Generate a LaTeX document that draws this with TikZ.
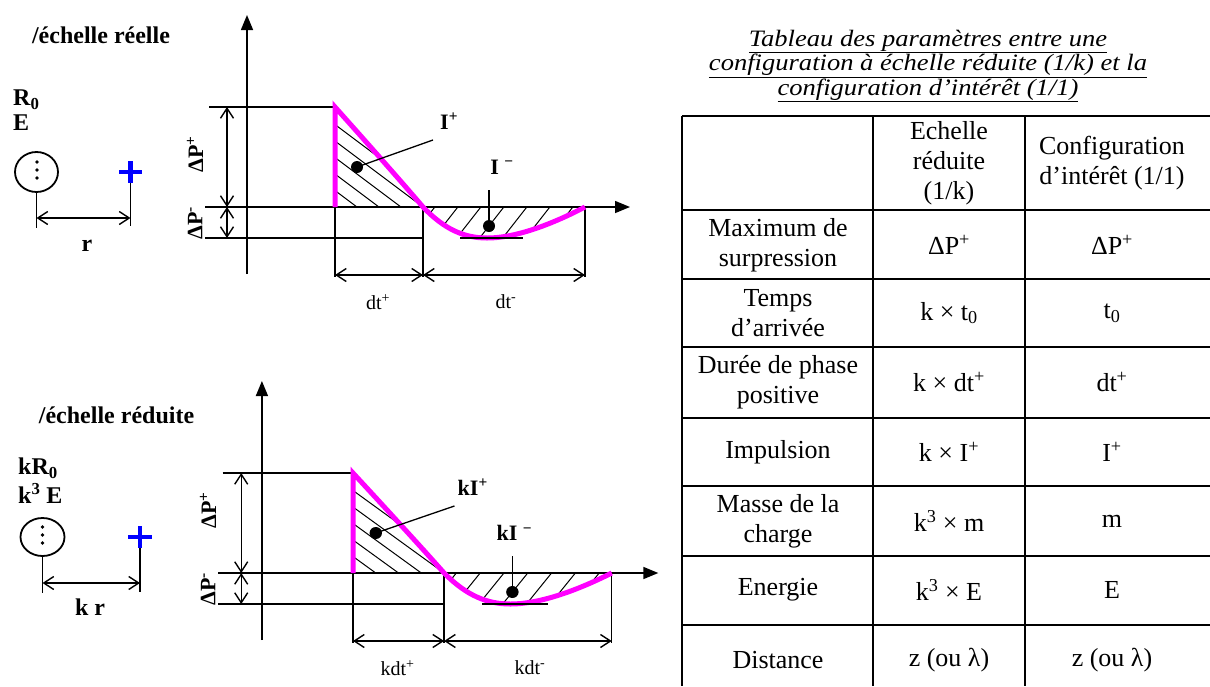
\documentclass[tikz,border=0pt]{standalone}
\usepackage{fontspec}
\setmainfont{Liberation Serif}
\usetikzlibrary{arrows.meta}
\definecolor{magentaC}{RGB}{255,0,255}
\definecolor{blueC}{RGB}{0,0,255}
% #1 I+ text, #2 I- text, #3 dt+ text, #4 dt- text, #5 DeltaP+ label y, #6 I+ west x, #7 I- center x, #8 prefix
\newcommand\pulsegraph[8]{%
  \begin{scope}
    \clip (0,0) -- (0,-100) .. controls (25,-72) and (65,-27) .. (88,0) -- cycle;
    \foreach \xb in {0,22,...,286} \draw[hatchline] (\xb-220,-165) -- (\xb+20,15);
  \end{scope}
  \begin{scope}
    \clip (88,0) .. controls (110,23) and (130,31) .. (152,31) .. controls (185,31) and (225,13) .. (250,0) -- cycle;
    \foreach \xt in {100,123,...,290} \draw[hatchline] (\xt+10,-13) -- (\xt-40,51);
  \end{scope}
  \draw[axisarrow] (-88,67) -- (-88,-192);
  \draw[axisarrow] (-130,0) -- (295,0);
  \draw[thinline] (-126,-100) -- (0,-100);
  \draw[thinline] (-130,31) -- (88,31);
  \draw[thinline] (0,0) -- (0,70);
  \draw[thinline] (88,0) -- (88,70);
  \draw[thinline] (250,0) -- (250,70);
  \draw[dimarrow] (-108,-100) -- (-108,0);
  \draw[dimarrow] (-108,0) -- (-108,31);
  \draw[dimarrow] (0,68) -- (88,68);
  \draw[dimarrow] (88,68) -- (250,68);
  \draw[pulseline] (0,0) -- (0,-100) .. controls (25,-72) and (65,-27) .. (88,0)
     .. controls (110,23) and (130,31) .. (152,31) .. controls (185,31) and (225,13) .. (250,0);
  \draw[thinline] (125,31) -- (188,31);
  % I+ leader
  \fill (22,-40) circle (6);
  \draw[thinline] (22,-40) -- (98,-67);
  \node[boldlbl, anchor=west] (#8ip) at (#6,-86) {#1};
  % I- leader
  \fill (154,19) circle (6);
  \draw[thinline] (154,19) -- (154,-17);
  \node[boldlbl] (#8im) at (#7,-40) {#2};
  \node[boldlbl, rotate=90] (#8dpp) at (-140,#5) {ΔP\textsuperscript{+}};
  \node[boldlbl, rotate=90] (#8dpm) at (-140,16) {ΔP\textsuperscript{-}};
  \node[dtlbl] (#8dtp) at (43,95) {#3};
  \node[dtlbl] (#8dtm) at (171,95) {#4};
}
\begin{document}
\begin{tikzpicture}[x=1pt,y=-1pt,
  thinline/.style={line width=1.3pt},
  hatchline/.style={line width=1pt},
  axisarrow/.style={line width=1.5pt,-{Triangle[length=15pt,width=12pt]}},
  dimarrow/.style={line width=1.4pt,{Straight Barb[length=10pt,width=13pt]}-{Straight Barb[length=10pt,width=13pt]}},
  pulseline/.style={line width=5pt,draw=magentaC},
  crossline/.style={draw=blueC,line width=4.5pt},
  boldlbl/.style={inner sep=0pt,font=\bfseries\fontsize{22}{24}\selectfont},
  headlbl/.style={inner sep=0pt,font=\bfseries\fontsize{24}{26}\selectfont},
  dtlbl/.style={inner sep=0pt,font=\fontsize{20}{22}\selectfont},
  cell/.style={inner sep=0pt,align=center,font=\fontsize{26}{30}\selectfont},
  tbl/.style={line width=2.5pt},
]
\useasboundingbox (0,0) rectangle (1210,686);

% ---------- top left: real scale ----------
\node[headlbl] (titleA) at (101,35) {/échelle réelle};
\node[headlbl, anchor=west] (rA) at (13,100) {R\textsubscript{0}};
\node[headlbl, anchor=west] (eA) at (13,123) {E};
\draw[line width=1.8pt] (36.5,172) ellipse [x radius=21.5, y radius=20];
\foreach \yy in {162,170,178} \fill (37,\yy) circle (1.8);
\draw[thinline] (36.5,192) -- (36.5,228);
\draw[crossline] (119,172) -- (142,172);
\draw[crossline] (130.5,161) -- (130.5,183);
\draw[thinline] (130.5,183) -- (130.5,226);
\draw[dimarrow] (36.5,218) -- (130.5,218);
\node[headlbl] (distA) at (87,246) {r};

% ---------- bottom left: reduced scale ----------
\node[headlbl] (titleB) at (116.5,415) {/échelle réduite};
\node[headlbl, anchor=west] (rB) at (18,468) {kR\textsubscript{0}};
\node[headlbl, anchor=west] (eB) at (18,493) {k\textsuperscript{3} E};
\draw[line width=1.8pt] (42.5,537) ellipse [x radius=22, y radius=19];
\foreach \yy in {527,535,543} \fill (42.5,\yy) circle (1.8);
\draw[thinline] (42.5,556) -- (42.5,593);
\draw[crossline] (128,537) -- (152,537);
\draw[crossline] (140,526) -- (140,548);
\draw[thinline] (140,548) -- (140,592);
\draw[dimarrow] (42.5,583) -- (140,583);
\node[headlbl] (distB) at (90,607) {k r};

% ---------- graphs ----------
\begin{scope}[shift={(335,207)}]
  \pulsegraph{I\textsuperscript{+}}{I \textsuperscript{−}}{dt\textsuperscript{+}}{dt\textsuperscript{-}}{-53}{105}{167}{a}
\end{scope}
\begin{scope}[shift={(353,573)}, xscale=1.035]
  \pulsegraph{kI\textsuperscript{+}}{kI \textsuperscript{−}}{kdt\textsuperscript{+}}{kdt\textsuperscript{-}}{-63}{101}{156}{b}
\end{scope}

% ---------- table ----------
\node[align=center, inner sep=0pt, font=\itshape\fontsize{23.5}{23.5}\selectfont] (ttl) at (928,66)
  {\scalebox{1.13}[1]{\underline{Tableau des paramètres entre une}}\\\scalebox{1.13}[1]{\underline{configuration à échelle réduite (1/k) et la}}\\\scalebox{1.13}[1]{\underline{configuration d’intérêt (1/1)}}};
\foreach \yy in {116,210,279,347,418,486,556,625} \draw[tbl] (682,\yy) -- (1210,\yy);
\foreach \xx in {682,873,1025} \draw[tbl] (\xx,116) -- (\xx,686);

\node[cell] (h2) at (949,163) {Echelle\\réduite\\(1/k)};
\node[cell] (h3) at (1112,163) {Configuration\\d’intérêt (1/1)};

\node[cell] (r1a) at (778,245) {Maximum de\\surpression};
\node[cell] (r1b) at (949,245) {ΔP\textsuperscript{+}};
\node[cell] (r1c) at (1112,245) {ΔP\textsuperscript{+}};

\node[cell] (r2a) at (778,313) {Temps\\d’arrivée};
\node[cell] (r2b) at (949,313) {k × t\textsubscript{0}};
\node[cell] (r2c) at (1112,313) {t\textsubscript{0}};

\node[cell] (r3a) at (778,382) {Durée de phase\\positive};
\node[cell] (r3b) at (949,382) {k × dt\textsuperscript{+}};
\node[cell] (r3c) at (1112,382) {dt\textsuperscript{+}};

\node[cell] (r4a) at (778,452) {Impulsion};
\node[cell] (r4b) at (949,452) {k × I\textsuperscript{+}};
\node[cell] (r4c) at (1112,452) {I\textsuperscript{+}};

\node[cell] (r5a) at (778,521) {Masse de la\\charge};
\node[cell] (r5b) at (949,521) {k\textsuperscript{3} × m};
\node[cell] (r5c) at (1112,521) {m};

\node[cell] (r6a) at (778,590) {Energie};
\node[cell] (r6b) at (949,590) {k\textsuperscript{3} × E};
\node[cell] (r6c) at (1112,590) {E};

\node[cell] (r7a) at (778,660) {Distance};
\node[cell] (r7b) at (949,660) {z (ou λ)};
\node[cell] (r7c) at (1112,660) {z (ou λ)};
\end{tikzpicture}
\end{document}
